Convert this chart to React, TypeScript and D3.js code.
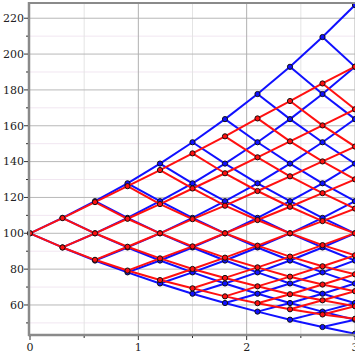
import React, { useRef, useEffect } from "react";
import * as d3 from "d3";

// time of each tree step (dt = 0.3)
const stepTimes = [0, 0.3, 0.6, 0.9, 1.2, 1.5, 1.8, 2.1, 2.4, 2.7, 3.0];

// blue (recombining) tree price levels, lowest to highest
const blueLevels = [
  44.0, 47.7, 51.8, 56.3, 61.1, 66.3, 72.0, 78.2, 84.8, 92.1, 100,
  108.6, 117.9, 127.9, 138.9, 150.8, 163.7, 177.7, 192.9, 209.5, 227.4,
];

// red tree node values per step, top to bottom
const redNodes = [
  [100],
  [108.5, 92.1],
  [117.4, 100, 85.2],
  [126.3, 108.1, 92.5, 79.2],
  [135.3, 116.3, 100, 86.0, 73.9],
  [144.6, 125.0, 107.9, 92.7, 80.1, 69.3],
  [154.1, 133.5, 115.4, 100, 86.4, 75.1, 64.8],
  [164.1, 142.4, 123.6, 107.4, 93.1, 81.0, 70.4, 61.0],
  [173.8, 151.3, 131.8, 114.8, 100, 87.0, 75.8, 66.0, 57.6],
  [183.6, 160.2, 140.1, 122.4, 106.8, 93.4, 81.6, 71.4, 62.6, 54.7],
  [193.0, 169.2, 148.4, 130.1, 113.8, 100, 87.7, 77.1, 67.7, 59.3, 52.3],
];

const yTicks = [60, 80, 100, 120, 140, 160, 180, 200, 220];
const yMinorTicks = [50, 70, 90, 110, 130, 150, 170, 190, 210];
const xTicks = [0, 1, 2, 3];
const xMinorTicks = [0.5, 1.5, 2.5];

const BLUE = "#1010ff";
const RED = "#ff1010";

type Node = { t: number; v: number };

const App = () => {
  const svgRef = useRef<SVGSVGElement>(null);

  useEffect(() => {
    const svg = d3.select(svgRef.current);
    svg.selectAll("*").remove();

    const width = 355;
    const height = 355;
    const left = 30;
    const top = 3;
    const bottom = 335;

    const x = d3.scaleLinear().domain([0, 3]).range([left, 355]);
    const y = d3.scaleLinear().domain([43.25, 228.5]).range([bottom, top]);

    // grid
    const grid = svg.append("g");
    grid.selectAll("line.ymin")
      .data(yMinorTicks)
      .join("line")
      .attr("x1", left).attr("x2", width)
      .attr("y1", d => y(d)).attr("y2", d => y(d))
      .attr("stroke", "#f1e6f1").attr("stroke-width", 1);
    grid.selectAll("line.xmin")
      .data(xMinorTicks)
      .join("line")
      .attr("class", "xmin")
      .attr("x1", d => x(d)).attr("x2", d => x(d))
      .attr("y1", top).attr("y2", bottom)
      .attr("stroke", "#e4e4e4").attr("stroke-width", 1);
    grid.selectAll("line.ymaj")
      .data(yTicks)
      .join("line")
      .attr("class", "ymaj")
      .attr("x1", left).attr("x2", width)
      .attr("y1", d => y(d)).attr("y2", d => y(d))
      .attr("stroke", "#b8b8b8").attr("stroke-width", 1);
    grid.selectAll("line.xmaj")
      .data(xTicks.filter(d => d > 0))
      .join("line")
      .attr("class", "xmaj")
      .attr("x1", d => x(d)).attr("x2", d => x(d))
      .attr("y1", top).attr("y2", bottom)
      .attr("stroke", "#b0b0b0").attr("stroke-width", 1);

    // build edges and nodes
    const blueEdges: [Node, Node][] = [];
    const redEdges: [Node, Node][] = [];
    const blueDots: Node[] = [];
    const redDots: Node[] = [];
    const blueAt = (n: number, j: number) => blueLevels[10 + n - 2 * j];

    stepTimes.forEach((t, n) => {
      for (let j = 0; j <= n; j++) {
        blueDots.push({ t, v: blueAt(n, j) });
        redDots.push({ t, v: redNodes[n][j] });
        if (n < stepTimes.length - 1) {
          const t2 = stepTimes[n + 1];
          blueEdges.push([{ t, v: blueAt(n, j) }, { t: t2, v: blueAt(n + 1, j) }]);
          blueEdges.push([{ t, v: blueAt(n, j) }, { t: t2, v: blueAt(n + 1, j + 1) }]);
          redEdges.push([{ t, v: redNodes[n][j] }, { t: t2, v: redNodes[n + 1][j] }]);
          redEdges.push([{ t, v: redNodes[n][j] }, { t: t2, v: redNodes[n + 1][j + 1] }]);
        }
      }
    });

    const drawTree = (edges: [Node, Node][], dots: Node[], color: string) => {
      const g = svg.append("g");
      g.selectAll("line")
        .data(edges)
        .join("line")
        .attr("x1", d => x(d[0].t)).attr("y1", d => y(d[0].v))
        .attr("x2", d => x(d[1].t)).attr("y2", d => y(d[1].v))
        .attr("stroke", color).attr("stroke-width", 2);
      return g;
    };
    const drawDots = (dots: Node[], color: string) => {
      svg.append("g").selectAll("circle")
        .data(dots)
        .join("circle")
        .attr("cx", d => x(d.t)).attr("cy", d => y(d.v))
        .attr("r", 2.6)
        .attr("fill", color)
        .attr("stroke", "#111").attr("stroke-width", 1);
    };

    drawTree(blueEdges, blueDots, BLUE);
    drawDots(blueDots, BLUE);
    drawTree(redEdges, redDots, RED);
    drawDots(redDots, RED);

    // frame / axes
    svg.append("line")
      .attr("x1", left).attr("x2", width).attr("y1", top).attr("y2", top)
      .attr("stroke", "#8a8a8a").attr("stroke-width", 2);
    svg.append("line")
      .attr("x1", left - 1).attr("x2", left - 1).attr("y1", top - 1).attr("y2", bottom + 1)
      .attr("stroke", "#8a8a8a").attr("stroke-width", 2.5);
    svg.append("line")
      .attr("x1", left - 2).attr("x2", width).attr("y1", bottom).attr("y2", bottom)
      .attr("stroke", "#8a8a8a").attr("stroke-width", 2.5);

    const axis = svg.append("g").attr("fill", "#222")
      .style("font-family", "'DejaVu Serif', serif").style("font-size", "11px");

    axis.selectAll("line.yt")
      .data(yTicks)
      .join("line")
      .attr("class", "yt")
      .attr("x1", left - 6).attr("x2", left - 2)
      .attr("y1", d => y(d)).attr("y2", d => y(d))
      .attr("stroke", "#333");
    axis.selectAll("line.ymt")
      .data(yMinorTicks)
      .join("line")
      .attr("class", "ymt")
      .attr("x1", left - 4).attr("x2", left - 2)
      .attr("y1", d => y(d)).attr("y2", d => y(d))
      .attr("stroke", "#333");
    axis.selectAll("text.yl")
      .data(yTicks)
      .join("text")
      .attr("class", "yl")
      .attr("x", left - 6)
      .attr("y", d => y(d))
      .attr("dy", "0.35em")
      .attr("text-anchor", "end")
      .text(d => d);

    axis.selectAll("line.xt")
      .data(xTicks)
      .join("line")
      .attr("class", "xt")
      .attr("x1", d => x(d)).attr("x2", d => x(d))
      .attr("y1", bottom + 1).attr("y2", bottom + 5)
      .attr("stroke", "#333");
    axis.selectAll("line.xmt")
      .data(xMinorTicks)
      .join("line")
      .attr("class", "xmt")
      .attr("x1", d => x(d)).attr("x2", d => x(d))
      .attr("y1", bottom + 1).attr("y2", bottom + 3)
      .attr("stroke", "#333");
    axis.selectAll("text.xl")
      .data(xTicks)
      .join("text")
      .attr("class", "xl")
      .attr("x", d => x(d))
      .attr("y", 351)
      .attr("text-anchor", "middle")
      .text(d => d);
  }, []);

  return (
    <svg
      ref={svgRef}
      width={355}
      height={355}
      style={{ position: "fixed", left: 0, top: 0, background: "#fff" }}
    />
  );
};

export default App;
